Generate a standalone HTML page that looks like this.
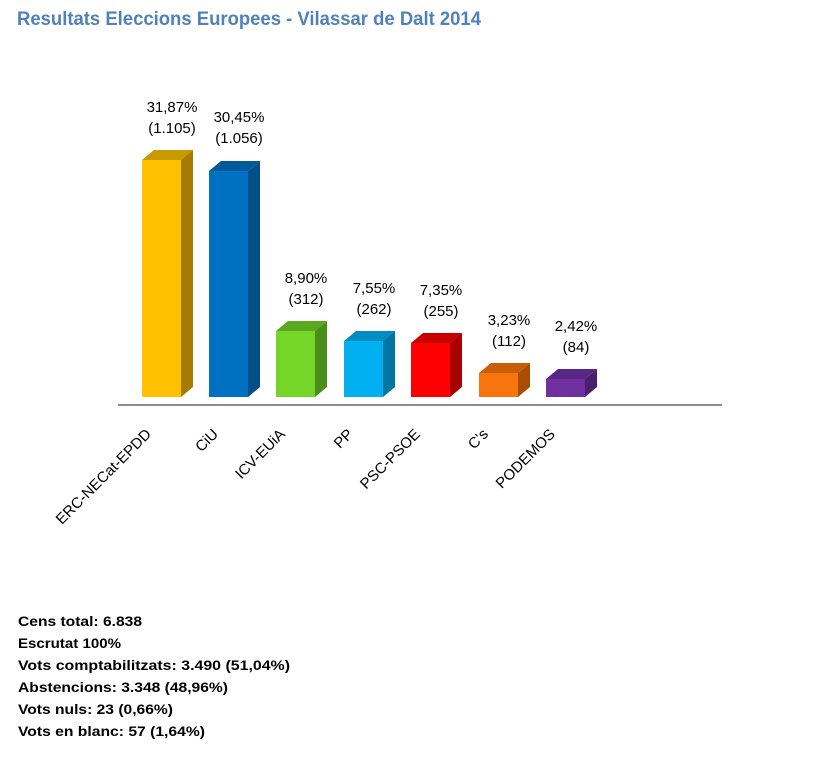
<!DOCTYPE html>
<html><head><meta charset="utf-8"><style>html,body{margin:0;padding:0;background:#fff}svg{display:block}</style></head>
<body>
<svg width="820" height="768" viewBox="0 0 820 768" xmlns="http://www.w3.org/2000/svg" font-family="Liberation Sans, sans-serif">
<text x="17" y="25" font-size="19" font-weight="bold" fill="#4f81bd" textLength="464" lengthAdjust="spacingAndGlyphs">Resultats Eleccions Europees - Vilassar de Dalt 2014</text>
<line x1="118" y1="405" x2="722" y2="405" stroke="#8c8c8c" stroke-width="2"/>
<g font-size="14" fill="#000">
<text x="18" y="626" font-weight="bold" textLength="124" lengthAdjust="spacingAndGlyphs">Cens total: 6.838</text>
<text x="18" y="648" font-weight="bold" textLength="103" lengthAdjust="spacingAndGlyphs">Escrutat 100%</text>
<text x="18" y="670" font-weight="bold" textLength="272" lengthAdjust="spacingAndGlyphs">Vots comptabilitzats: 3.490 (51,04%)</text>
<text x="18" y="692" font-weight="bold" textLength="210" lengthAdjust="spacingAndGlyphs">Abstencions: 3.348 (48,96%)</text>
<text x="18" y="714" font-weight="bold" textLength="155" lengthAdjust="spacingAndGlyphs">Vots nuls: 23 (0,66%)</text>
<text x="18" y="736" font-weight="bold" textLength="187" lengthAdjust="spacingAndGlyphs">Vots en blanc: 57 (1,64%)</text>
</g>
<g>
<polygon points="142,160 154,150 193,150 181,160" fill="#c99a00"/><polygon points="181,160 193,150 193,387 181,397" fill="#a67c00"/><rect x="142" y="160" width="39" height="237" fill="#ffc000"/>
<polygon points="209,171 221,161 260,161 248,171" fill="#005a9a"/><polygon points="248,171 260,161 260,387 248,397" fill="#004f86"/><rect x="209" y="171" width="39" height="226" fill="#0070c0"/>
<polygon points="276,331 288,321 327,321 315,331" fill="#5aa820"/><polygon points="315,331 327,321 327,387 315,397" fill="#4b8f1a"/><rect x="276" y="331" width="39" height="66" fill="#76d627"/>
<polygon points="344,341 356,331 395,331 383,341" fill="#008cc0"/><polygon points="383,341 395,331 395,387 383,397" fill="#0077a3"/><rect x="344" y="341" width="39" height="56" fill="#00b0f0"/>
<polygon points="411,343 423,333 462,333 450,343" fill="#c80000"/><polygon points="450,343 462,333 462,387 450,397" fill="#a80000"/><rect x="411" y="343" width="39" height="54" fill="#ff0000"/>
<polygon points="479,373 491,363 530,363 518,373" fill="#c85e08"/><polygon points="518,373 530,363 530,387 518,397" fill="#a94d05"/><rect x="479" y="373" width="39" height="24" fill="#f7750c"/>
<polygon points="546,379 558,369 597,369 585,379" fill="#5a2685"/><polygon points="585,379 597,369 597,387 585,397" fill="#4a1f6b"/><rect x="546" y="379" width="39" height="18" fill="#7030a0"/>
</g>
<g font-size="15" text-anchor="middle" fill="#000">
<text x="172" y="112">31,87%</text><text x="172" y="133">(1.105)</text>
<text x="239" y="122">30,45%</text><text x="239" y="143">(1.056)</text>
<text x="306" y="283">8,90%</text><text x="306" y="304">(312)</text>
<text x="374" y="293">7,55%</text><text x="374" y="314">(262)</text>
<text x="441" y="295">7,35%</text><text x="441" y="316">(255)</text>
<text x="509" y="325">3,23%</text><text x="509" y="346">(112)</text>
<text x="576" y="331">2,42%</text><text x="576" y="352">(84)</text>
</g>
<g font-size="15" text-anchor="end" fill="#000">
<text transform="translate(152,435) rotate(-45)">ERC-NECat-EPDD</text>
<text transform="translate(219,435) rotate(-45)">CiU</text>
<text transform="translate(286,435) rotate(-45)">ICV-EUiA</text>
<text transform="translate(354,435) rotate(-45)">PP</text>
<text transform="translate(421,435) rotate(-45)">PSC-PSOE</text>
<text transform="translate(489,435) rotate(-45)">C's</text>
<text transform="translate(556,435) rotate(-45)">PODEMOS</text>
</g>
</svg>
</body></html>
